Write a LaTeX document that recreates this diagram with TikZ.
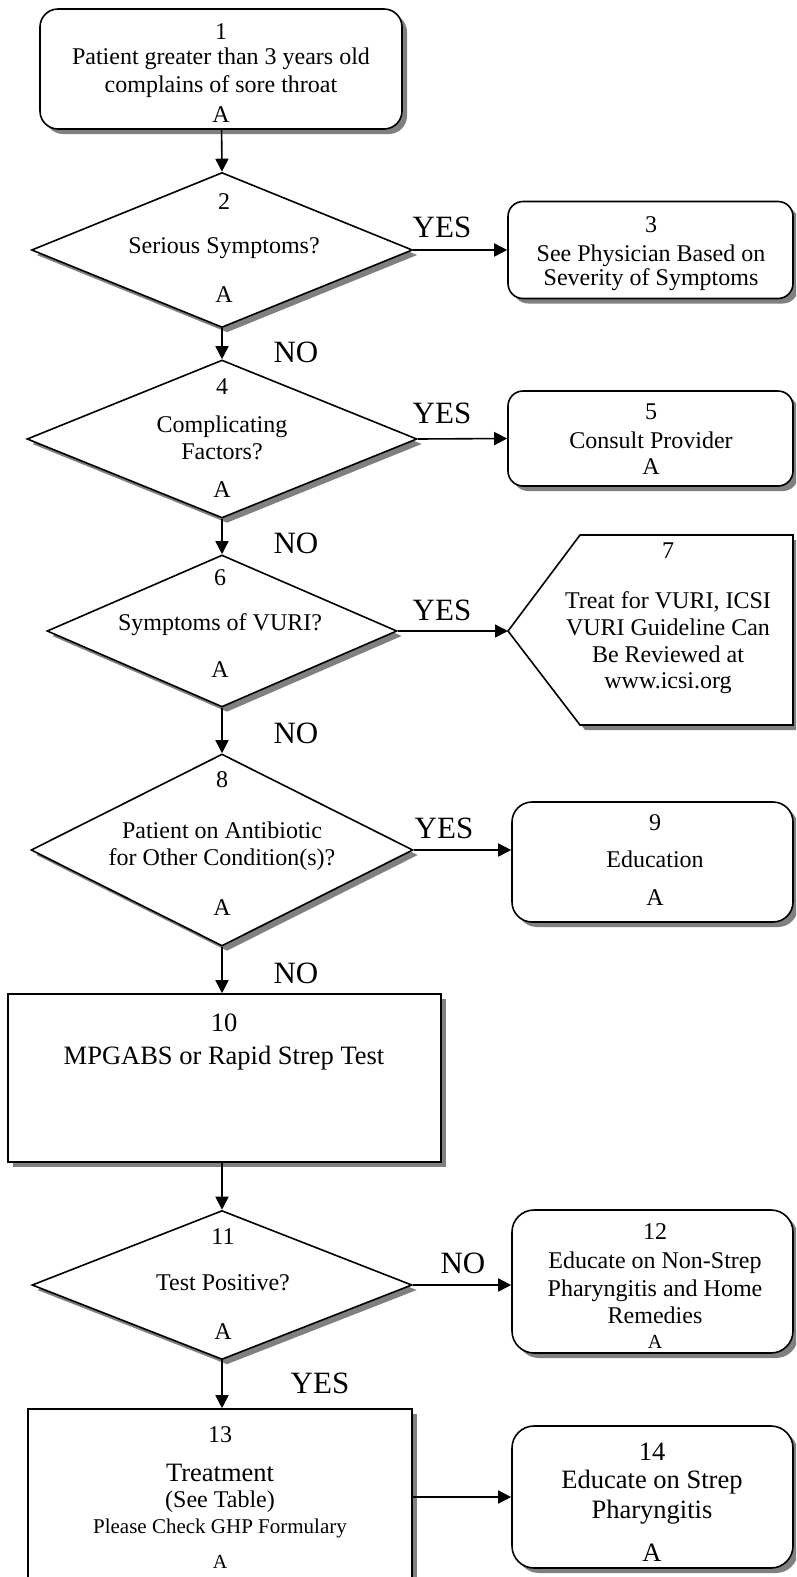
\documentclass[tikz,border=0pt]{standalone}
\usepackage{fontspec}
\setmainfont{Liberation Serif}
\usetikzlibrary{shapes.geometric,shadows,arrows.meta}
\newcommand\fsz[2]{\fontsize{#1}{#2}\selectfont}
\begin{document}
\begin{tikzpicture}[x=1pt,y=-1pt, line width=1.6pt,
  shad/.style={drop shadow={shadow xshift=5pt,shadow yshift=-5pt,fill=black!50,opacity=1}},
  rbox/.style={draw, fill=white, rounded corners=18pt, inner sep=0pt, shad},
  sbox/.style={draw, fill=white, inner sep=0pt, shad},
  dia/.style={diamond, draw, fill=white, inner sep=0pt, shad},
  txt/.style={align=center, inner sep=0pt, font=\fsz{24}{28}},
  big/.style={align=center, inner sep=0pt, font=\fsz{26.5}{30}},
  sml/.style={align=center, inner sep=0pt, font=\fsz{20}{24}},
  lbl/.style={inner sep=0pt, font=\fsz{31}{31}},
  arr/.style={-{Triangle[length=13pt,width=13pt]}}
]
\useasboundingbox (0,0) rectangle (796,1577);
\clip (0,0) rectangle (796,1577);

% shapes
\node[rbox, minimum width=362pt, minimum height=120pt] (n1) at (221,69) {};
\node[dia, minimum width=381pt, minimum height=155pt] (d2) at (222,250) {};
\node[rbox, rounded corners=15pt, minimum width=285pt, minimum height=97pt] (n3) at (650.5,250) {};
\node[dia, minimum width=390pt, minimum height=158pt] (d4) at (222,439) {};
\node[rbox, rounded corners=15pt, minimum width=285pt, minimum height=95pt] (n5) at (650.5,438.5) {};
\node[dia, minimum width=350pt, minimum height=152pt] (d6) at (222,631) {};
\path[draw, fill=white, shad] (508,631) -- (580,535) -- (793,535) -- (793,725) -- (580,725) -- cycle;
\coordinate (n7) at (508,631);
\node[dia, minimum width=382pt, minimum height=192pt] (d8) at (222,850) {};
\node[rbox, rounded corners=20pt, minimum width=281pt, minimum height=120pt] (n9) at (652.5,862) {};
\node[sbox, minimum width=433pt, minimum height=168pt] (n10) at (224.5,1078) {};
\node[dia, minimum width=380pt, minimum height=149pt] (d11) at (222,1285) {};
\node[rbox, rounded corners=22pt, minimum width=281pt, minimum height=143pt] (n12) at (652.5,1281.5) {};
\node[sbox, minimum width=384pt, minimum height=191pt] (n13) at (220,1504.5) {};
\node[rbox, rounded corners=22pt, minimum width=281pt, minimum height=142pt] (n14) at (652.5,1497) {};

% texts
\node[txt] (t1a) at (221,32) {1};
\node[txt] (t1b) at (221,73) {Patient greater than 3 years old\\complains of sore throat};
\node[txt] (t1c) at (221,115) {A};

\node[txt] (t2a) at (224,202) {2};
\node[txt] (t2b) at (224,248) {Serious Symptoms?};
\node[txt] (t2c) at (224,295) {A};

\node[txt] (t3a) at (651,225) {3};
\node[txt, font=\fsz{24}{24}] (t3b) at (651,268) {See Physician Based on\\Severity of Symptoms};

\node[txt] (t4a) at (222,387) {4};
\node[txt, font=\fsz{24}{27}] (t4b) at (222,437.5) {Complicating\\Factors?};
\node[txt] (t4c) at (222,490) {A};

\node[txt] (t5a) at (651,412) {5};
\node[txt] (t5b) at (651,440) {Consult Provider};
\node[txt] (t5c) at (651,467) {A};

\node[txt] (t6a) at (220,578) {6};
\node[txt] (t6b) at (220,625) {Symptoms of VURI?};
\node[txt] (t6c) at (220,670) {A};

\node[txt] (t7a) at (668,551) {7};
\node[txt, font=\fsz{24}{26.7}] (t7b) at (668,643) {Treat for VURI, ICSI\\VURI Guideline Can\\Be Reviewed at\\www.icsi.org};

\node[txt] (t8a) at (222,780) {8};
\node[txt, font=\fsz{24}{27}] (t8b) at (222,846.5) {Patient on Antibiotic\\for Other Condition(s)?};
\node[txt] (t8c) at (222,908) {A};

\node[txt] (t9a) at (655,823) {9};
\node[txt] (t9b) at (655,859) {Education};
\node[txt] (t9c) at (655,898) {A};

\node[big] (t10a) at (224,1023) {10};
\node[big] (t10b) at (224,1058) {MPGABS or Rapid Strep Test};

\node[txt] (t11a) at (223,1237) {11};
\node[txt] (t11b) at (223,1283) {Test Positive?};
\node[txt] (t11c) at (223,1332) {A};

\node[txt] (t12a) at (655,1232) {12};
\node[txt, font=\fsz{24}{27.5}] (t12b) at (655,1288) {Educate on Non-Strep\\Pharyngitis and Home\\Remedies};
\node[sml] (t12c) at (655,1342) {A};

\node[txt] (t13a) at (220,1435) {13};
\node[big] (t13b) at (220,1473) {Treatment};
\node[txt] (t13c) at (220,1502) {(See Table)};
\node[txt, font=\fsz{21}{24}] (t13d) at (220,1528) {Please Check GHP Formulary};
\node[sml] (t13e) at (220,1562) {A};

\node[big] (t14a) at (652,1452) {14};
\node[big] (t14b) at (652,1497) {Educate on Strep\\Pharyngitis};
\node[big] (t14c) at (652,1553) {A};

% branch labels
\node[lbl] (y2) at (442,227) {YES};
\node[lbl] (y4) at (442,413) {YES};
\node[lbl] (y6) at (442,610) {YES};
\node[lbl] (y8) at (444,828) {YES};
\node[lbl] (no2) at (296,352) {NO};
\node[lbl] (no4) at (296,543) {NO};
\node[lbl] (no6) at (296,733) {NO};
\node[lbl] (no8) at (296,973) {NO};
\node[lbl] (no11) at (463,1263) {NO};
\node[lbl] (y11) at (320,1383) {YES};

% connectors
\draw[arr] (n1) -- (d2.north);
\draw[arr] (d2.east) -- (n3.west);
\draw[arr] (d2.south) -- (d4.north);
\draw[arr] (d4.east) -- (n5.west);
\draw[arr] (d4.south) -- (d6.north);
\draw[arr] (d6.east) -- (n7);
\draw[arr] (d6.south) -- (d8.north);
\draw[arr] (d8.east) -- (d8.east -| n9.west);
\draw[arr] (d8.south) -- (n10.north -| d8.south);
\draw[arr] (n10.south -| d11.north) -- (d11.north);
\draw[arr] (d11.east) -- (d11.east -| n12.west);
\draw[arr] (d11.south) -- (n13.north -| d11.south);
\draw[arr] (n13.east |- n14.west) -- (n14.west);
\end{tikzpicture}
\end{document}
